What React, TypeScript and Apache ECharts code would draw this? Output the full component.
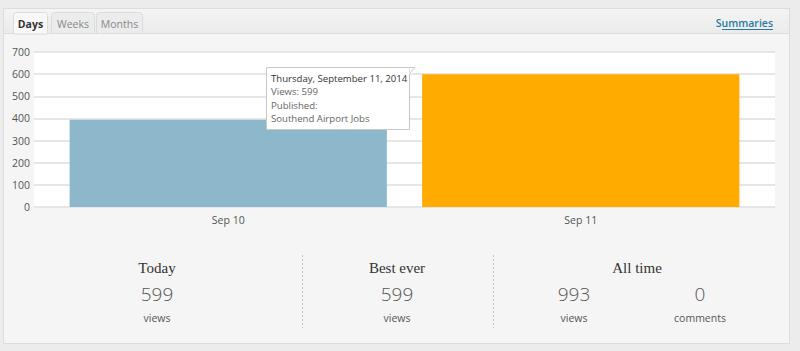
import React, { useEffect, useRef } from "react";
import * as echarts from "echarts";

const categories = ["Sep 10", "Sep 11"];
const views = [394, 599];
const barColors = ["#8db7cb", "#ffab00"];
const yMin = 0;
const yMax = 700;
const yInterval = 100;
const tabs = ["Days", "Weeks", "Months"];
const tooltipLines = ["Thursday, September 11, 2014", "Views: 599", "Published:", "Southend Airport Jobs"];
const statTitles = ["Today", "Best ever", "All time"];
const statValues = ["599", "599", "993", "0"];
const statUnits = ["views", "views", "views", "comments"];

const SANS = "'Open Sans', 'Noto Sans', sans-serif";
const SERIF = "'Liberation Serif', 'DejaVu Serif', serif";

export default function App() {
  const ref = useRef<HTMLDivElement>(null);
  useEffect(() => {
    if (!ref.current) return;
    const chart = echarts.init(ref.current, null, { renderer: "svg" });

    const tabGeo = [
      { x: 13, w: 34 },
      { x: 51, w: 43 },
      { x: 96, w: 46 },
    ];
    const graphics: any[] = [
      { type: "rect", z: -10, shape: { x: 3.5, y: 8.5, width: 786, height: 335 }, style: { fill: "#f5f5f5", stroke: "#dcdcdc", lineWidth: 1 } },
      {
        type: "rect", z: -9, shape: { x: 4, y: 9, width: 785, height: 24 },
        style: { fill: new echarts.graphic.LinearGradient(0, 0, 0, 1, [{ offset: 0, color: "#f4f4f4" }, { offset: 1, color: "#ebebeb" }]) },
      },
      { type: "line", z: -8, shape: { x1: 4, y1: 33.5, x2: 789, y2: 33.5 }, style: { stroke: "#dddddd", lineWidth: 1 } },
    ];
    tabs.forEach((t, i) => {
      const g = tabGeo[i];
      graphics.push({
        type: "rect", z: -7,
        shape: { x: g.x + 0.5, y: 12.5, width: g.w, height: i === 0 ? 21.5 : 21, r: [3, 3, 0, 0] },
        style: { fill: i === 0 ? "#f8f8f8" : "#ececec", stroke: "#dcdcdc", lineWidth: 1 },
      });
      graphics.push({
        type: "text", z: -6, x: g.x + g.w / 2 + 0.5, y: 24,
        style: { text: t, font: `${i === 0 ? "bold " : ""}10.5px ${SANS}`, fill: i === 0 ? "#333" : "#888", align: "center", verticalAlign: "middle" },
      });
    });
    graphics.push({ type: "text", x: 773, y: 23, style: { text: "Summaries", font: `600 10.5px ${SANS}`, fill: "#2a7aa0", align: "right", verticalAlign: "middle" } });
    graphics.push({ type: "line", shape: { x1: 722, y1: 29.5, x2: 773, y2: 29.5 }, style: { stroke: "#2a7aa0", lineWidth: 1 } });

    // tooltip
    const tx = 266;
    const ty = 67;
    const TZ = 100;
    graphics.push({ type: "polygon", z: TZ, shape: { points: [[tx + 143, ty + 0.5], [tx + 149, ty + 0.5], [tx + 143, ty + 7]] }, style: { fill: "#fff", stroke: "#c8c8c8", lineWidth: 1 } });
    graphics.push({ type: "rect", z: TZ + 1, shape: { x: tx + 0.5, y: ty + 0.5, width: 143, height: 62 }, style: { fill: "#fff", stroke: "#c8c8c8", lineWidth: 1 } });
    graphics.push({ type: "rect", z: TZ + 2, shape: { x: tx + 142, y: ty + 1, width: 1.5, height: 6 }, style: { fill: "#fff" } });
    tooltipLines.forEach((l, i) => {
      graphics.push({
        type: "text", z: TZ + 3, x: tx + 5, y: ty + 11.5 + i * 13.4,
        style: { text: l, font: `9.6px ${SANS}`, fill: i === 0 ? "#333" : "#666", verticalAlign: "middle" },
      });
    });

    // stats
    const titleX = [157, 397, 637];
    titleX.forEach((x, i) => {
      graphics.push({ type: "text", x, y: 268, style: { text: statTitles[i], font: `15px ${SERIF}`, fill: "#333", align: "center", verticalAlign: "middle" } });
    });
    const valX = [157, 397, 574, 700];
    valX.forEach((x, i) => {
      graphics.push({ type: "text", x, y: 294, style: { text: statValues[i], font: `300 19px ${SANS}`, fill: "#555", align: "center", verticalAlign: "middle" } });
      graphics.push({ type: "text", x, y: 318, style: { text: statUnits[i], font: `10.5px ${SANS}`, fill: "#555", align: "center", verticalAlign: "middle" } });
    });
    [302.5, 493.5].forEach((x) => {
      graphics.push({ type: "line", shape: { x1: x, y1: 255, x2: x, y2: 328 }, style: { stroke: "#c4c4c4", lineWidth: 1, lineDash: [2, 2] } });
    });

    chart.setOption({
      animation: false,
      backgroundColor: "#ececec",
      grid: [
        { left: 34, right: 25, top: 52, bottom: 144, show: true, backgroundColor: "#ffffff", borderWidth: 0 },
        { left: 52, right: 43, top: 52, bottom: 144 },
      ],
      xAxis: [
        { type: "category", gridIndex: 0, data: categories, show: false },
        {
          type: "category", gridIndex: 1, data: categories,
          axisLine: { show: false }, axisTick: { show: false },
          axisLabel: { color: "#555", fontSize: 10.5, fontFamily: SANS, margin: 7 },
        },
      ],
      yAxis: [
        {
          type: "value", gridIndex: 0, min: yMin, max: yMax, interval: yInterval,
          axisLine: { show: false }, axisTick: { show: false },
          axisLabel: { color: "#555", fontSize: 10.5, fontFamily: SANS, margin: 4 },
          splitLine: { lineStyle: { color: "#e6e6e6", width: 2 } },
        },
        { type: "value", gridIndex: 1, min: yMin, max: yMax, interval: yInterval, show: false, splitLine: { show: false } },
      ],
      series: [
        { type: "bar", xAxisIndex: 0, yAxisIndex: 0, data: [] },
        {
          type: "bar", xAxisIndex: 1, yAxisIndex: 1, barCategoryGap: "10%",
          data: views.map((v, i) => ({ value: v, itemStyle: { color: barColors[i] } })),
        },
      ],
      graphic: { elements: graphics },
    });
    return () => chart.dispose();
  }, []);
  return <div ref={ref} style={{ position: "fixed", left: 0, top: 0, width: 800, height: 351 }} />;
}
